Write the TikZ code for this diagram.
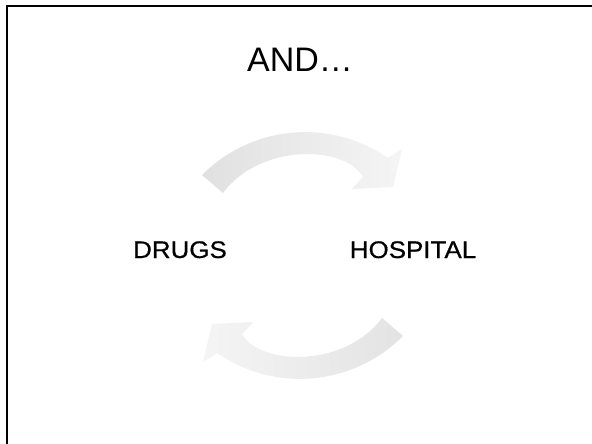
\documentclass[tikz,border=0pt]{standalone}
\usepackage{fontspec}
\setmainfont{Liberation Sans}
\newfontfamily\lblfont[UprightFeatures={FakeBold=0.6}]{Liberation Sans}
\begin{document}
\begin{tikzpicture}[x=1pt,y=-1pt,
  lbl/.style={inner sep=0pt,anchor=base,text=black},
  blockarrow/.style={draw=none}]
\useasboundingbox (0,0) rectangle (592,444);
\fill[white] (0,0) rectangle (592,444);
% frame (only top and left edges visible)
\draw[line width=2pt,black] (7,444) -- (7,6) -- (592,6);
% title
\node[lbl,font=\fontsize{34}{40}\selectfont] (title) at (300,72) {AND…};
% labels
\node[lbl,font=\lblfont\fontsize{24}{28}\selectfont,xscale=1.08] (drugs) at (180,258) {DRUGS};
\node[lbl,font=\lblfont\fontsize{24}{28}\selectfont,xscale=1.08] (hospital) at (413,258) {HOSPITAL};
% top circular arrow
\path[blockarrow,left color=gray!24,right color=gray!8]
  (202,175) .. controls (252,125) and (330,118) .. (388,158)
  -- (402,149) -- (393,187) -- (352,189) -- (363,177)
  .. controls (345,145) and (260,143) .. (223,193) -- cycle;
% bottom circular arrow
\path[blockarrow,left color=gray!8,right color=gray!22]
  (403,336) .. controls (353,386) and (275,393) .. (217,353)
  -- (203,362) -- (212,324) -- (253,322) -- (242,334)
  .. controls (260,366) and (345,368) .. (382,318) -- cycle;
\end{tikzpicture}
\end{document}
